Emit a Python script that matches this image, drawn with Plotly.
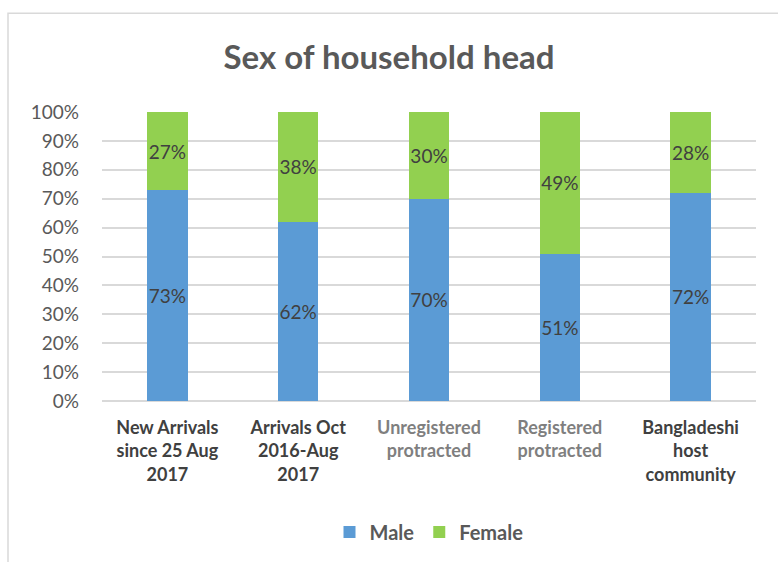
import plotly.graph_objects as go

# Household head sex shares by population group
categories = [
    "New Arrivals<br>since 25 Aug<br>2017",
    "Arrivals Oct<br>2016-Aug<br>2017",
    "Unregistered<br>protracted",
    "Registered<br>protracted",
    "Bangladeshi<br>host<br>community",
]
male = [73, 62, 70, 51, 72]
female = [27, 38, 30, 49, 28]
tick_values = [0, 10, 20, 30, 40, 50, 60, 70, 80, 90, 100]

label_colors = ["#404040", "#404040", "#7f7f7f", "#7f7f7f", "#404040"]
tick_text_x = [f"<span style='color:{c}'>{t}</span>" for t, c in zip(categories, label_colors)]

FONT = "Lato, 'Open Sans', sans-serif"

fig = go.Figure()
for name, vals, color in [("Male", male, "#5B9BD5"), ("Female", female, "#92D050")]:
    fig.add_trace(go.Bar(
        name=name, x=categories, y=vals,
        marker=dict(color=color, line=dict(width=0)),
        text=[f"{v}%" for v in vals], textposition="inside", textangle=0,
        insidetextanchor="middle", constraintext="none",
        textfont=dict(size=19, color="#404040", family=FONT),
        width=0.31,
    ))

fig.update_layout(
    barmode="stack",
    width=778, height=562,
    margin=dict(l=102, r=22, t=112, b=160),
    paper_bgcolor="white", plot_bgcolor="white",
    font=dict(family=FONT, color="#595959"),
    title=dict(text="<b>Sex of household head</b>", x=0.5, xanchor="center",
               y=1 - 57 / 562, yanchor="middle",
               font=dict(size=33, color="#595959", family=FONT)),
    showlegend=True,
    legend=dict(orientation="h", x=0.5, xanchor="center", y=-0.448, yanchor="middle",
                font=dict(size=20, color="#595959", family=FONT, weight="bold"),
                itemwidth=30, traceorder="normal"),
    xaxis=dict(tickvals=categories, ticktext=tick_text_x, showgrid=False,
               showline=False, ticks="", ticklabelstandoff=14,
               tickfont=dict(size=18, family=FONT, color="#404040", weight="bold")),
    yaxis=dict(range=[0, 100], tickvals=tick_values,
               ticktext=[f"{v}%" for v in tick_values],
               showgrid=True, gridcolor="#d9d9d9", gridwidth=1.5,
               zeroline=True, zerolinecolor="#d9d9d9", zerolinewidth=1.5,
               showline=False, ticks="", ticklabelstandoff=22,
               tickfont=dict(size=19, family=FONT, color="#595959")),
    shapes=[dict(type="rect", xref="paper", yref="paper",
                 x0=(8 - 102) / 654, x1=1.2,
                 y0=-0.7, y1=1 + (112 - 13) / 290,
                 line=dict(color="#d9d9d9", width=1.5), fillcolor="rgba(0,0,0,0)",
                 layer="below")],
)

fig.write_html("out.html")
